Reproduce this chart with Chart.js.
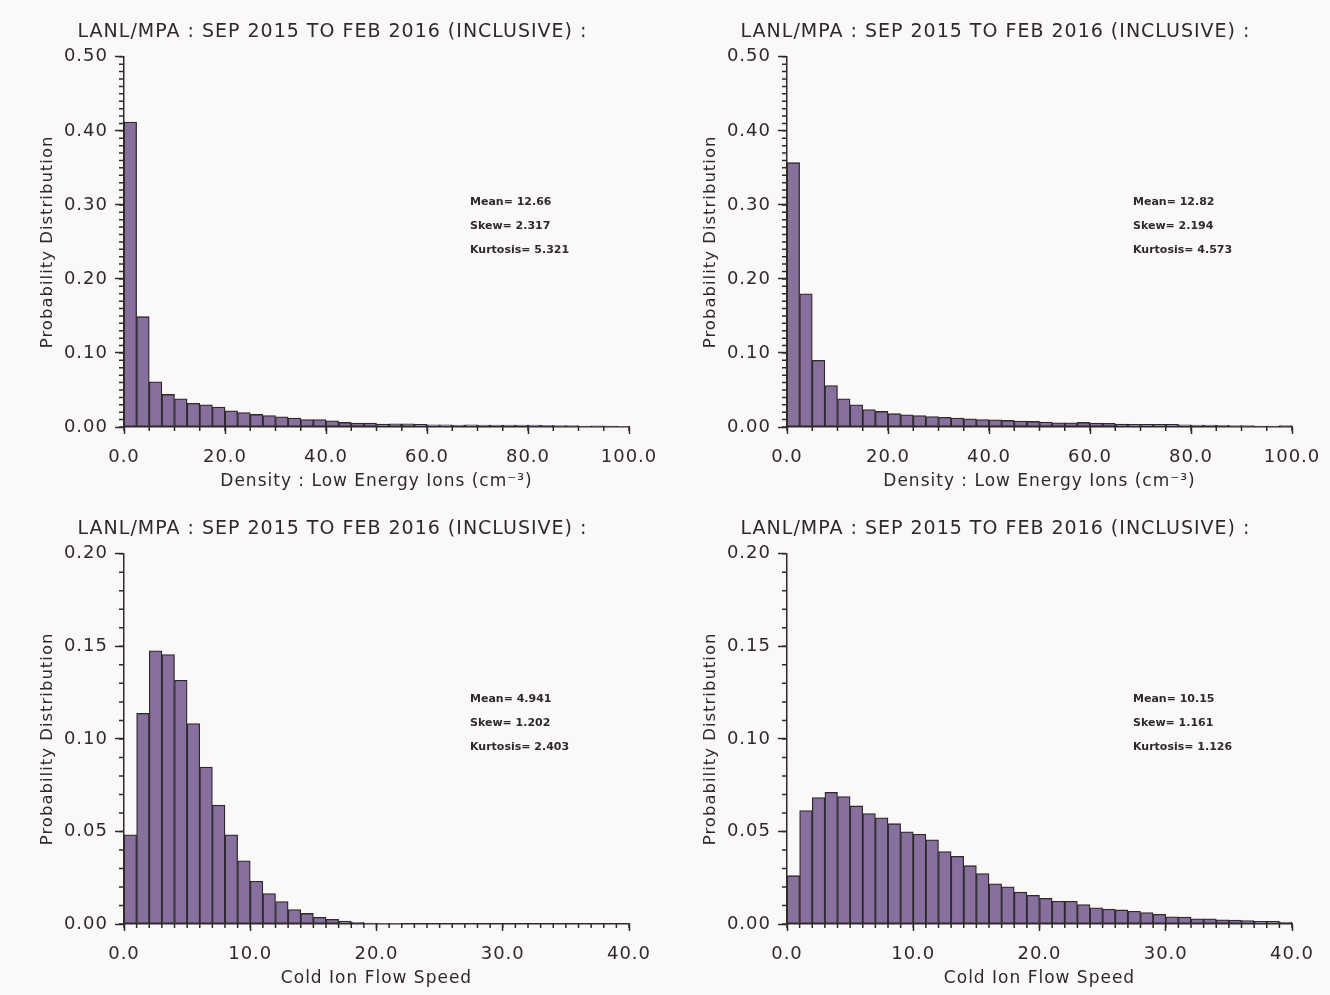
<!DOCTYPE html>
<html>
<head>
<meta charset="utf-8">
<script src="https://cdn.jsdelivr.net/npm/chart.js@4.4.1/dist/chart.umd.min.js"></script>
<style>
  body { margin: 0; background: #faf9f8; }
  #wrap { position: relative; width: 1330px; height: 995px; }
  canvas { position: absolute; }
</style>
</head>
<body>
<div id="wrap">
  <canvas id="c1" width="665" height="497" style="left:0;top:0"></canvas>
  <canvas id="c2" width="665" height="497" style="left:663px;top:0"></canvas>
  <canvas id="c3" width="665" height="497" style="left:0;top:497px"></canvas>
  <canvas id="c4" width="665" height="497" style="left:663px;top:497px"></canvas>
</div>
<script>
// histogram values
var title = 'LANL/MPA : SEP 2015 TO FEB 2016 (INCLUSIVE) :'
var densityBin = 2.5   // 40 bins over 0-100 cm^-3
var speedBin = 1.0     // 40 bins over 0-40

var densityA = [0.412, 0.149, 0.061, 0.044, 0.038, 0.032, 0.030, 0.027, 0.022, 0.0195,
  0.017, 0.0155, 0.0137, 0.012, 0.010, 0.010, 0.0084, 0.0062, 0.0053, 0.0053,
  0.004, 0.0044, 0.0044, 0.0035, 0.003, 0.003, 0.0027, 0.003, 0.0027, 0.0027,
  0.0027, 0.0027, 0.0025, 0.0022, 0.0018, 0.0018, 0.0013, 0.0016, 0.0013, 0.001]
var densityB = [0.357, 0.180, 0.090, 0.056, 0.038, 0.030, 0.0235, 0.021, 0.018, 0.0164,
  0.0155, 0.014, 0.013, 0.012, 0.011, 0.010, 0.0098, 0.0089, 0.008, 0.0075,
  0.0066, 0.0058, 0.0058, 0.0062, 0.0053, 0.0049, 0.004, 0.0035, 0.0035, 0.0035,
  0.0035, 0.003, 0.0027, 0.0027, 0.0022, 0.0018, 0.0018, 0.0013, 0.0013, 0.0018]
var speedA = [0.0482, 0.1138, 0.1476, 0.1456, 0.1317, 0.1083, 0.0848, 0.0642, 0.0482, 0.0341,
  0.0231, 0.0165, 0.0121, 0.0078, 0.0057, 0.0036, 0.0025, 0.0016, 0.0009, 0.0005,
  0.0002, 0.0001, 0, 0, 0, 0, 0, 0, 0, 0,
  0, 0, 0, 0, 0, 0, 0, 0, 0, 0]
var speedB = [0.0261, 0.0613, 0.0683, 0.0711, 0.0688, 0.0638, 0.0597, 0.0574, 0.0542, 0.0498,
  0.0485, 0.0455, 0.0391, 0.0366, 0.0315, 0.0272, 0.0217, 0.0201, 0.0172, 0.0155,
  0.0139, 0.0123, 0.0123, 0.0105, 0.0087, 0.008, 0.0076, 0.0069, 0.0062, 0.0052,
  0.0039, 0.0037, 0.0028, 0.0028, 0.0023, 0.0021, 0.0018, 0.0014, 0.0014, 0.0011]

var statsA = ['Mean= 12.66', 'Skew= 2.317', 'Kurtosis= 5.321']
var statsB = ['Mean= 12.82', 'Skew= 2.194', 'Kurtosis= 4.573']
var statsC = ['Mean= 4.941', 'Skew= 1.202', 'Kurtosis= 2.403']
var statsD = ['Mean= 10.15', 'Skew= 1.161', 'Kurtosis= 1.126']

var densityLabel = 'Density : Low Energy Ions (cm\u207B\u00B3)'
var speedLabel = 'Cold Ion Flow Speed'

var ink = '#2e2a2c'
var fill = '#876f9e'
var font = 'DejaVu Sans'

// outward minor ticks (IDL style) + the stats text block
var extras = {
  id: 'extras',
  beforeDraw: function(chart) {
    // the original's vector font is wider spaced
    chart.ctx.letterSpacing = '1px'
  },
  afterDraw: function(chart, args, o) {
    var ctx = chart.ctx, x = chart.scales.x, y = chart.scales.y, a = chart.chartArea
    ctx.save()
    ctx.strokeStyle = ink
    ctx.lineWidth = 1.5
    ctx.beginPath()
    var n = Math.round(o.xMax / o.xMinor)
    for (var i = 0; i <= n; i++) {
      var px = x.getPixelForValue(i * o.xMinor)
      ctx.moveTo(px, a.bottom); ctx.lineTo(px, a.bottom + 4)
    }
    n = Math.round(o.yMax / o.yMinor)
    for (var j = 0; j <= n; j++) {
      var py = y.getPixelForValue(j * o.yMinor)
      ctx.moveTo(a.left, py); ctx.lineTo(a.left - 5, py)
    }
    ctx.stroke()
    ctx.fillStyle = ink
    ctx.letterSpacing = '0px'
    ctx.font = 'bold 11px ' + font
    ctx.textBaseline = 'middle'
    o.stats.forEach(function(s, k) {
      ctx.fillText(s, a.left + 346, a.top + 145 + k * 24)
    })
    ctx.restore()
  }
}

function makeChart(id, vals, bw, xMax, xStep, xMinor, yMax, yStep, yMinor, xTitle, stats) {
  var pts = vals.map(function(v, i) { return {x: (i + 0.5) * bw, y: v} })
  new Chart(document.getElementById(id), {
    type: 'bar',
    data: {
      datasets: [{
        data: pts,
        backgroundColor: fill,
        borderColor: ink,
        borderWidth: 1.3,
        borderSkipped: false,
        barPercentage: 1,
        categoryPercentage: 1
      }]
    },
    plugins: [extras],
    options: {
      responsive: false,
      animation: false,
      layout: {padding: 0},
      plugins: {
        legend: {display: false},
        tooltip: {enabled: false},
        title: {
          display: true, text: title, color: ink,
          font: {family: font, size: 19, weight: 'normal'},
          padding: {top: 21, bottom: 13}
        },
        extras: {xMax: xMax, xMinor: xMinor, yMax: yMax, yMinor: yMinor, stats: stats}
      },
      scales: {
        x: {
          type: 'linear', min: 0, max: xMax, offset: false,
          ticks: {
            stepSize: xStep, autoSkip: false, maxRotation: 0, padding: 13, color: ink,
            font: {family: font, size: 18},
            callback: function(v) { return v.toFixed(1) }
          },
          grid: {offset: false, drawOnChartArea: false, tickLength: 7, tickColor: ink, tickWidth: 1.5},
          border: {color: ink, width: 1.5},
          title: {display: true, text: xTitle, color: ink, font: {family: font, size: 17}, padding: {top: 0, bottom: 5}},
          afterFit: function(s) { s.height = 70; s.paddingRight = 36 }
        },
        y: {
          min: 0, max: yMax,
          ticks: {
            stepSize: yStep, padding: 7, color: ink,
            font: {family: font, size: 18},
            callback: function(v) { return v.toFixed(2) }
          },
          grid: {drawOnChartArea: false, tickLength: 9, tickColor: ink, tickWidth: 1.5},
          border: {color: ink, width: 1.5},
          title: {display: true, text: 'Probability Distribution', color: ink, font: {family: font, size: 16.5}, padding: {top: 38, bottom: 0}},
          afterFit: function(s) { s.width = 124 }
        }
      }
    }
  })
}

makeChart('c1', densityA, densityBin, 100, 20, 5, 0.5, 0.1, 0.01, densityLabel, statsA)
makeChart('c2', densityB, densityBin, 100, 20, 5, 0.5, 0.1, 0.01, densityLabel, statsB)
makeChart('c3', speedA, speedBin, 40, 10, 1, 0.2, 0.05, 0.01, speedLabel, statsC)
makeChart('c4', speedB, speedBin, 40, 10, 1, 0.2, 0.05, 0.01, speedLabel, statsD)
</script>
</body>
</html>
